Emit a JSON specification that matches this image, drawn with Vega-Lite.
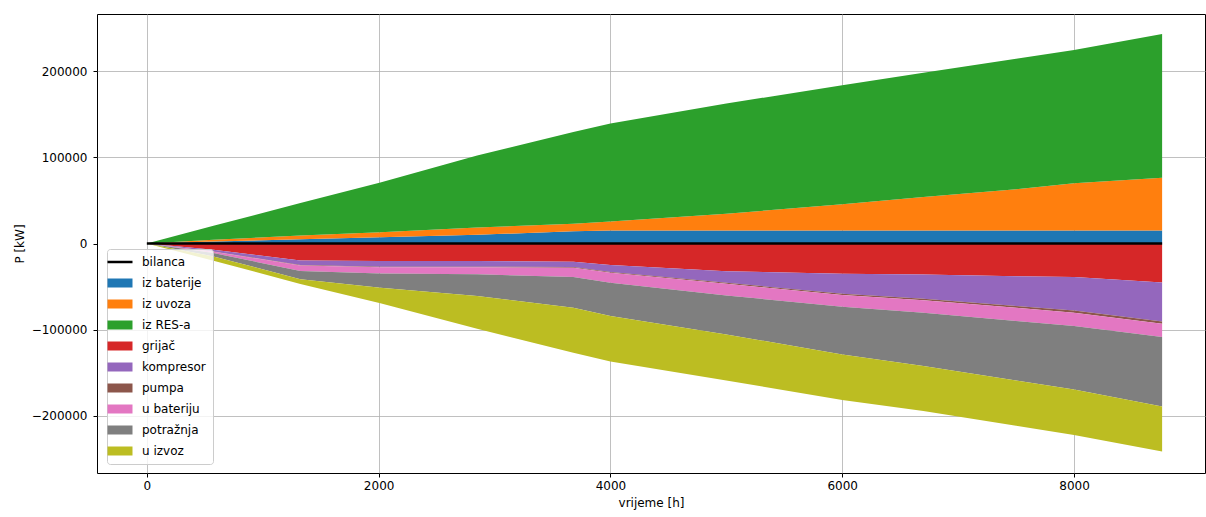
{
  "$schema": "https://vega.github.io/schema/vega-lite/v6.json",
  "width": 1108,
  "height": 459,
  "autosize": "none",
  "padding": {"left": 97, "top": 14, "right": 1, "bottom": 44},
  "background": "#ffffff",
  "config": {
    "font": "DejaVu Sans",
    "view": {"stroke": "#000000", "strokeWidth": 1},
    "axis": {
      "labelFont": "DejaVu Sans", "labelFontSize": 12, "labelColor": "#000000",
      "titleFont": "DejaVu Sans", "titleFontSize": 12, "titleFontWeight": "normal", "titleColor": "#000000",
      "tickColor": "#000000", "tickSize": 4, "domain": false, "grid": true,
      "gridColor": "#b0b0b0", "gridWidth": 0.8, "zindex": 1
    }
  },
  "datasets": {
    "flows": [
      {"h":0,"s":"iz baterije","v":0},{"h":575,"s":"iz baterije","v":2300},{"h":1325,"s":"iz baterije","v":5000},{"h":2015,"s":"iz baterije","v":7400},{"h":2850,"s":"iz baterije","v":10200},{"h":3680,"s":"iz baterije","v":14100},{"h":4000,"s":"iz baterije","v":15100},{"h":5000,"s":"iz baterije","v":15100},{"h":6000,"s":"iz baterije","v":15100},{"h":6700,"s":"iz baterije","v":15100},{"h":7500,"s":"iz baterije","v":15100},{"h":8000,"s":"iz baterije","v":15100},{"h":8760,"s":"iz baterije","v":15100},
      {"h":0,"s":"iz uvoza","v":0},{"h":575,"s":"iz uvoza","v":2000},{"h":1325,"s":"iz uvoza","v":4300},{"h":2015,"s":"iz uvoza","v":5800},{"h":2850,"s":"iz uvoza","v":8300},{"h":3680,"s":"iz uvoza","v":8900},{"h":4000,"s":"iz uvoza","v":10400},{"h":5000,"s":"iz uvoza","v":19400},{"h":6000,"s":"iz uvoza","v":30600},{"h":6700,"s":"iz uvoza","v":38900},{"h":7500,"s":"iz uvoza","v":47900},{"h":8000,"s":"iz uvoza","v":55000},{"h":8760,"s":"iz uvoza","v":61200},
      {"h":0,"s":"iz RES-a","v":0},{"h":575,"s":"iz RES-a","v":16200},{"h":1325,"s":"iz RES-a","v":37700},{"h":2015,"s":"iz RES-a","v":57600},{"h":2850,"s":"iz RES-a","v":83600},{"h":3680,"s":"iz RES-a","v":106500},{"h":4000,"s":"iz RES-a","v":113800},{"h":5000,"s":"iz RES-a","v":128000},{"h":6000,"s":"iz RES-a","v":138200},{"h":6700,"s":"iz RES-a","v":144300},{"h":7500,"s":"iz RES-a","v":151600},{"h":8000,"s":"iz RES-a","v":154700},{"h":8760,"s":"iz RES-a","v":167100},
      {"h":0,"s":"grijač","v":0},{"h":575,"s":"grijač","v":-7300},{"h":1325,"s":"grijač","v":-19700},{"h":2015,"s":"grijač","v":-20400},{"h":2850,"s":"grijač","v":-20400},{"h":3680,"s":"grijač","v":-21200},{"h":4000,"s":"grijač","v":-25100},{"h":5000,"s":"grijač","v":-32100},{"h":6000,"s":"grijač","v":-35200},{"h":6700,"s":"grijač","v":-36000},{"h":7500,"s":"grijač","v":-37900},{"h":8000,"s":"grijač","v":-39000},{"h":8760,"s":"grijač","v":-45300},
      {"h":0,"s":"kompresor","v":0},{"h":575,"s":"kompresor","v":-2000},{"h":1325,"s":"kompresor","v":-5300},{"h":2015,"s":"kompresor","v":-6600},{"h":2850,"s":"kompresor","v":-6600},{"h":3680,"s":"kompresor","v":-6200},{"h":4000,"s":"kompresor","v":-7900},{"h":5000,"s":"kompresor","v":-13500},{"h":6000,"s":"kompresor","v":-23200},{"h":6700,"s":"kompresor","v":-28200},{"h":7500,"s":"kompresor","v":-34700},{"h":8000,"s":"kompresor","v":-38800},{"h":8760,"s":"kompresor","v":-45200},
      {"h":0,"s":"pumpa","v":0},{"h":575,"s":"pumpa","v":-200},{"h":1325,"s":"pumpa","v":-500},{"h":2015,"s":"pumpa","v":-600},{"h":2850,"s":"pumpa","v":-700},{"h":3680,"s":"pumpa","v":-800},{"h":4000,"s":"pumpa","v":-900},{"h":5000,"s":"pumpa","v":-1100},{"h":6000,"s":"pumpa","v":-1400},{"h":6700,"s":"pumpa","v":-1700},{"h":7500,"s":"pumpa","v":-2100},{"h":8000,"s":"pumpa","v":-2500},{"h":8760,"s":"pumpa","v":-2700},
      {"h":0,"s":"u bateriju","v":0},{"h":575,"s":"u bateriju","v":-1600},{"h":1325,"s":"u bateriju","v":-6500},{"h":2015,"s":"u bateriju","v":-7200},{"h":2850,"s":"u bateriju","v":-8100},{"h":3680,"s":"u bateriju","v":-10800},{"h":4000,"s":"u bateriju","v":-11700},{"h":5000,"s":"u bateriju","v":-13600},{"h":6000,"s":"u bateriju","v":-13700},{"h":6700,"s":"u bateriju","v":-14600},{"h":7500,"s":"u bateriju","v":-15300},{"h":8000,"s":"u bateriju","v":-15600},{"h":8760,"s":"u bateriju","v":-15450},
      {"h":0,"s":"potražnja","v":0},{"h":575,"s":"potražnja","v":-3900},{"h":1325,"s":"potražnja","v":-9500},{"h":2015,"s":"potražnja","v":-16600},{"h":2850,"s":"potražnja","v":-25200},{"h":3680,"s":"potražnja","v":-35600},{"h":4000,"s":"potražnja","v":-38700},{"h":5000,"s":"potražnja","v":-45300},{"h":6000,"s":"potražnja","v":-55300},{"h":6700,"s":"potražnja","v":-61800},{"h":7500,"s":"potražnja","v":-69000},{"h":8000,"s":"potražnja","v":-73600},{"h":8760,"s":"potražnja","v":-80550},
      {"h":0,"s":"u izvoz","v":0},{"h":575,"s":"u izvoz","v":-5000},{"h":1325,"s":"u izvoz","v":-5500},{"h":2015,"s":"u izvoz","v":-18100},{"h":2850,"s":"u izvoz","v":-38000},{"h":3680,"s":"u izvoz","v":-52300},{"h":4000,"s":"u izvoz","v":-52700},{"h":5000,"s":"u izvoz","v":-53400},{"h":6000,"s":"u izvoz","v":-53000},{"h":6700,"s":"u izvoz","v":-52300},{"h":7500,"s":"u izvoz","v":-52500},{"h":8000,"s":"u izvoz","v":-52900},{"h":8760,"s":"u izvoz","v":-52240}
    ],
    "bil": [{"h":0,"v":0},{"h":8760,"v":0}]
  },
  "layer": [
    {
      "data": {"name": "flows"},
      "transform": [
        {"calculate": "indexof(['iz baterije','iz uvoza','iz RES-a','grijač','kompresor','pumpa','u bateriju','potražnja','u izvoz'], datum.s)", "as": "k"}
      ],
      "mark": {"type": "area", "interpolate": "linear"},
      "encoding": {
        "x": {"field": "h", "type": "quantitative",
          "scale": {"domain": [-430, 9130], "nice": false, "zero": false},
          "axis": {"values": [0, 2000, 4000, 6000, 8000], "format": "d", "labelPadding": 3, "titlePadding": 6},
          "title": "vrijeme [h]"},
        "y": {"field": "v", "type": "quantitative", "stack": "zero",
          "scale": {"domain": [-266500, 266500], "nice": false},
          "axis": {"values": [-200000, -100000, 0, 100000, 200000], "format": "d", "labelPadding": 6, "titlePadding": 5,
            "gridColor": {"condition": {"test": "datum.value === 0", "value": "transparent"}, "value": "#b0b0b0"}},
          "title": "P [kW]"},
        "order": {"field": "k", "type": "quantitative", "sort": "ascending"},
        "color": {"field": "s", "type": "nominal",
          "scale": {
            "domain": ["bilanca", "iz baterije", "iz uvoza", "iz RES-a", "grijač", "kompresor", "pumpa", "u bateriju", "potražnja", "u izvoz"],
            "range": ["#000000", "#1f77b4", "#ff7f0e", "#2ca02c", "#d62728", "#9467bd", "#8c564b", "#e377c2", "#7f7f7f", "#bcbd22"]
          },
          "legend": {
            "orient": "none", "legendX": 10, "legendY": 235, "title": null,
            "labelFont": "DejaVu Sans", "labelFontSize": 12, "labelColor": "#000000",
            "symbolSize": 625, "labelOffset": 16, "padding": 7, "rowPadding": 9,
            "strokeColor": "#cccccc", "fillColor": "rgba(255,255,255,0.8)", "cornerRadius": 3,
            "encode": {"symbols": {"update": {
              "shape": {"signal": "datum.value === 'bilanca' ? 'stroke' : 'M-1,-0.36H1V0.36H-1Z'"},
              "stroke": {"signal": "datum.value === 'bilanca' ? '#000000' : 'transparent'"},
              "strokeWidth": {"signal": "datum.value === 'bilanca' ? 2.5 : 0"}
            }}}
          }
        }
      }
    },
    {
      "data": {"name": "bil"},
      "mark": {"type": "line", "color": "#000000", "strokeWidth": 2.5},
      "encoding": {
        "x": {"field": "h", "type": "quantitative"},
        "y": {"field": "v", "type": "quantitative"}
      }
    }
  ]
}
